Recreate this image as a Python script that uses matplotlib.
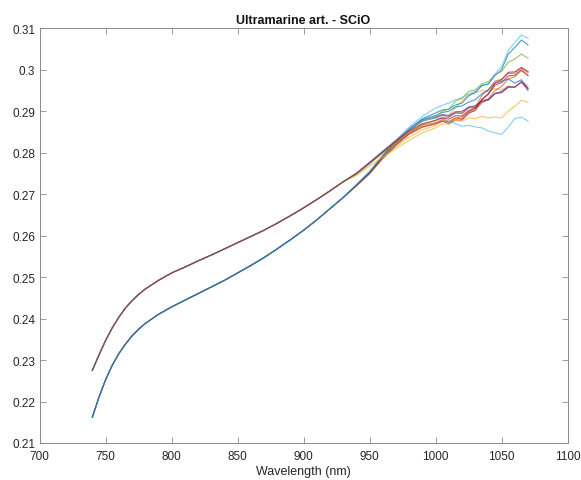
import matplotlib
matplotlib.use('Agg')
import matplotlib.pyplot as plt

# ── Data (reflectance) ──────────────────────────────────────────────────────
# shared part of each group, 740-930 nm
base_wl = [740, 745, 750, 755, 760, 765, 770, 775, 780, 790, 800, 810, 820,
           830, 840, 850, 860, 870, 880, 890, 900, 910, 920, 930]
base_a = [0.2275, 0.2312, 0.2347, 0.2377, 0.2403, 0.2425, 0.2443, 0.2458,
          0.2471, 0.2492, 0.2510, 0.2524, 0.2539, 0.2553, 0.2568, 0.2583,
          0.2598, 0.2613, 0.2630, 0.2648, 0.2667, 0.2687, 0.2708, 0.2730]
base_b = [0.2162, 0.2210, 0.2252, 0.2287, 0.2315, 0.2338, 0.2358, 0.2374,
          0.2388, 0.2410, 0.2428, 0.2444, 0.2460, 0.2476, 0.2492, 0.2510,
          0.2528, 0.2547, 0.2568, 0.2590, 0.2613, 0.2638, 0.2665, 0.2692]

# individual tails, 940-1070 nm
tail_wl = [940, 950, 960, 970, 980, 990, 1000, 1005, 1010, 1015, 1020, 1025,
           1030, 1035, 1040, 1045, 1050, 1055, 1060, 1065, 1070]

tails_b = {
    'green':   [.2722, .2752, .2789, .2821, .2848, .2868, .2878, .2886, .2885, .2896, .2897,
                .2910, .2913, .2927, .2929, .2943, .2945, .2958, .2959, .2970, .2956],
    'purple':  [.2722, .2753, .2793, .2826, .2855, .2877, .2884, .2891, .2887, .2896, .2895,
                .2908, .2909, .2923, .2927, .2943, .2945, .2958, .2958, .2970, .2950],
    'yellow':  [.2720, .2748, .2785, .2815, .2838, .2855, .2866, .2878, .2890, .2908, .2925,
                .2940, .2945, .2950, .2948, .2955, .2952, .2960, .2958, .2970, .2962],
    'orange':  [.2722, .2753, .2790, .2822, .2848, .2866, .2873, .2880, .2875, .2883, .2882,
                .2898, .2909, .2938, .2952, .2973, .2977, .2991, .2992, .3004, .2993],
    'darkred': [.2720, .2750, .2787, .2818, .2845, .2862, .2870, .2876, .2871, .2879, .2879,
                .2895, .2902, .2928, .2942, .2963, .2969, .2985, .2987, .3000, .2986],
    'cyan':    [.2724, .2756, .2795, .2830, .2862, .2888, .2908, .2914, .2920, .2928, .2932,
                .2942, .2948, .2962, .2966, .2990, .3008, .3046, .3066, .3084, .3076],
    'blue':    [.2721, .2752, .2792, .2828, .2858, .2882, .2896, .2903, .2905, .2915, .2920,
                .2937, .2945, .2962, .2966, .2986, .3000, .3038, .3054, .3072, .3060],
}
tails_a = {
    'blue':    [.2749, .2775, .2802, .2829, .2856, .2880, .2890, .2897, .2900, .2910, .2913,
                .2922, .2928, .2942, .2952, .2968, .2972, .2978, .2968, .2976, .2955],
    'orange':  [.2749, .2774, .2800, .2824, .2846, .2862, .2870, .2876, .2874, .2884, .2886,
                .2898, .2903, .2920, .2930, .2950, .2960, .2978, .2983, .2998, .2986],
    'yellow':  [.2745, .2768, .2790, .2810, .2830, .2848, .2860, .2870, .2868, .2878, .2876,
                .2884, .2882, .2888, .2884, .2886, .2884, .2900, .2912, .2926, .2922],
    'purple':  [.2751, .2777, .2804, .2830, .2856, .2878, .2886, .2892, .2890, .2899, .2900,
                .2910, .2913, .2924, .2928, .2942, .2948, .2960, .2958, .2972, .2955],
    'green':   [.2748, .2773, .2800, .2826, .2852, .2875, .2888, .2900, .2905, .2924, .2932,
                .2948, .2952, .2966, .2972, .2988, .2996, .3018, .3026, .3038, .3028],
    'cyan':    [.2750, .2776, .2803, .2830, .2857, .2878, .2884, .2882, .2876, .2870, .2864,
                .2866, .2862, .2860, .2852, .2848, .2844, .2862, .2882, .2886, .2876],
    'darkred': [.2750, .2776, .2802, .2828, .2852, .2870, .2878, .2884, .2881, .2889, .2889,
                .2902, .2907, .2928, .2942, .2968, .2976, .2994, .2995, .3006, .2996],
}

x_ticks = [700, 750, 800, 850, 900, 950, 1000, 1050, 1100]
y_ticks = [0.21, 0.22, 0.23, 0.24, 0.25, 0.26, 0.27, 0.28, 0.29, 0.30, 0.31]

# MATLAB default colour order
COLORS = {
    'blue':    (0.000, 0.447, 0.741),
    'orange':  (0.850, 0.325, 0.098),
    'yellow':  (0.929, 0.694, 0.125),
    'purple':  (0.494, 0.184, 0.556),
    'green':   (0.466, 0.674, 0.188),
    'cyan':    (0.301, 0.745, 0.933),
    'darkred': (0.635, 0.078, 0.184),
}

plt.rcParams['font.family'] = ['Liberation Sans', 'DejaVu Sans']

fig = plt.figure(figsize=(5.81, 4.81), dpi=100)
ax = fig.add_axes([0.068, 0.077, 0.909, 0.862])

wl = base_wl + tail_wl
for name, vals in tails_b.items():
    ax.plot(wl, base_b + vals, color=COLORS[name], lw=0.8, alpha=0.7)
for name, vals in tails_a.items():
    ax.plot(wl, base_a + vals, color=COLORS[name], lw=0.8, alpha=0.7)

ax.set_xlim(700, 1100)
ax.set_ylim(0.21, 0.31)
ax.set_xticks(x_ticks)
ax.set_yticks(y_ticks)
ax.set_yticklabels(['%g' % v for v in y_ticks])
ax.tick_params(direction='in', length=4, width=0.6, colors='#8a8a8a',
               labelcolor='#262626', labelsize=8.5, top=True, right=True)
ax.tick_params(axis='x', pad=5)
ax.tick_params(axis='y', pad=3)
for s in ax.spines.values():
    s.set_color('#8a8a8a')
    s.set_linewidth(0.7)

ax.set_xlabel('Wavelength (nm)', fontsize=9, color='#262626', labelpad=2)
ax.set_title('Ultramarine art. - SCiO', fontsize=9, fontweight='bold',
             color='#111111', pad=4)

fig.savefig('out.png', dpi=100)
